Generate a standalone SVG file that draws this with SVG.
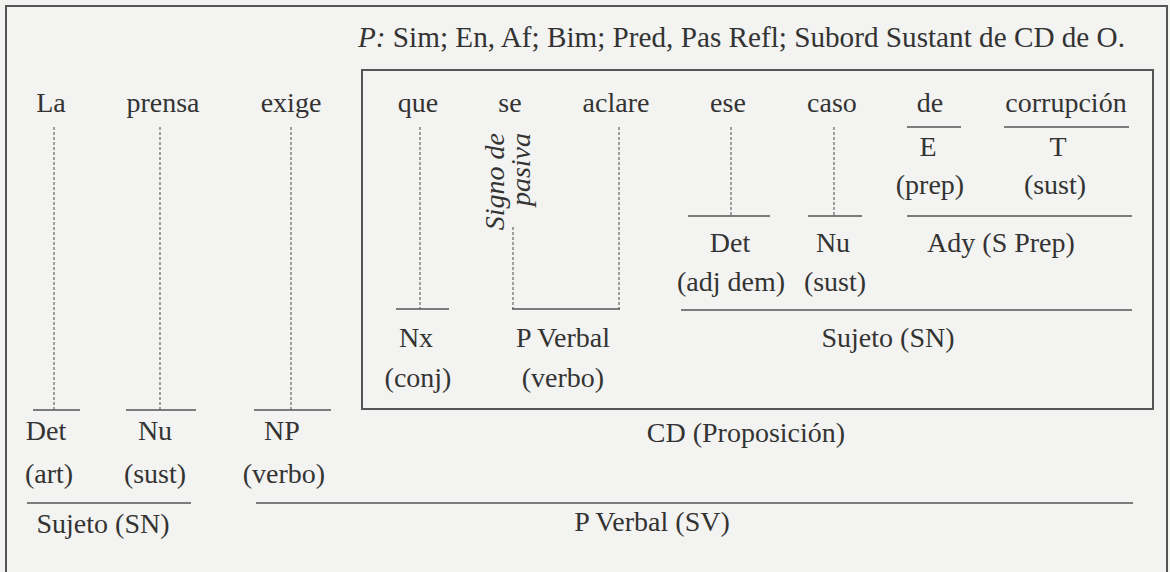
<svg xmlns="http://www.w3.org/2000/svg" width="1170" height="572" viewBox="0 0 1170 572">
<style>
text{font-family:"Liberation Serif","Times New Roman",serif;font-size:28px;fill:#333;text-anchor:middle}
.it{font-style:italic}
.l{text-anchor:start}
.hd{font-size:29.2px}
.dash{stroke:#666;stroke-width:1.2;stroke-dasharray:3 2;fill:none}
.sol{stroke:#555;stroke-width:1.6;fill:none}
.frame{stroke:#555;stroke-width:2;fill:none}
</style>
<rect x="0" y="0" width="1170" height="572" fill="#f3f3f1"/>
<rect class="frame" x="6" y="6" width="1161" height="580"/>
<g id="header"><text class="l hd" x="358" y="47"><tspan class="it">P:</tspan> Sim; En, Af; Bim; Pred, Pas Refl; Subord Sustant de CD de O.</text></g>
<rect id="prop-box" class="frame" x="362" y="70" width="791" height="339"/>
<g id="connectors">
<line class="dash" x1="54" y1="127" x2="54" y2="410"/>
<line class="dash" x1="160" y1="127" x2="160" y2="410"/>
<line class="dash" x1="291" y1="127" x2="291" y2="410"/>
<line class="dash" x1="420" y1="127" x2="420" y2="309"/>
<line class="dash" x1="619" y1="127" x2="619" y2="309"/>
<line class="dash" x1="513" y1="227" x2="513" y2="309"/>
<line class="dash" x1="731" y1="127" x2="731" y2="216"/>
<line class="dash" x1="834" y1="127" x2="834" y2="216"/>
<line class="sol" x1="33" y1="410" x2="80" y2="410"/>
<line class="sol" x1="126" y1="410" x2="196" y2="410"/>
<line class="sol" x1="254" y1="410" x2="331" y2="410"/>
<line class="sol" x1="396" y1="309" x2="449" y2="309"/>
<line class="sol" x1="512" y1="309" x2="620" y2="309"/>
<line class="sol" x1="688" y1="216" x2="770" y2="216"/>
<line class="sol" x1="808" y1="216" x2="862" y2="216"/>
<line class="sol" x1="907" y1="216" x2="1132" y2="216"/>
<line class="sol" x1="907" y1="127" x2="961" y2="127"/>
<line class="sol" x1="1004" y1="127" x2="1129" y2="127"/>
<line class="sol" x1="681" y1="310" x2="1132" y2="310"/>
<line class="sol" x1="27" y1="503" x2="191" y2="503"/>
<line class="sol" x1="256" y1="503" x2="1133" y2="503"/>
</g>
<g id="la"><text x="51" y="112">La</text><text x="46" y="440">Det</text><text x="49" y="483">(art)</text></g>
<g id="prensa"><text x="163" y="112">prensa</text><text x="155" y="440">Nu</text><text x="155" y="483">(sust)</text></g>
<g id="exige"><text x="291" y="112">exige</text><text x="282" y="440">NP</text><text x="284" y="483">(verbo)</text></g>
<g id="sujeto"><text x="103" y="533">Sujeto (SN)</text></g>
<g id="pverbal-sv"><text x="652" y="531">P Verbal (SV)</text></g>
<g id="cd"><text x="746" y="442">CD (Proposición)</text></g>
<g id="que"><text x="418" y="112">que</text><text x="416" y="347">Nx</text><text x="418" y="387">(conj)</text></g>
<g id="se"><text x="510" y="112">se</text>
<text class="it" transform="translate(504,133) rotate(-90)" style="text-anchor:end">Signo de</text>
<text class="it" transform="translate(530,133) rotate(-90)" style="text-anchor:end">pasiva</text></g>
<g id="aclare"><text x="616" y="112">aclare</text></g>
<g id="pverbal"><text x="563" y="347">P Verbal</text><text x="563" y="387">(verbo)</text></g>
<g id="ese"><text x="728" y="112">ese</text><text x="730" y="252">Det</text><text x="731" y="291">(adj dem)</text></g>
<g id="caso"><text x="832" y="112">caso</text><text x="833" y="252">Nu</text><text x="835" y="291">(sust)</text></g>
<g id="de"><text x="930" y="112">de</text><text x="928" y="156">E</text><text x="930" y="194">(prep)</text></g>
<g id="corrupcion"><text x="1066" y="112">corrupción</text><text x="1058" y="156">T</text><text x="1055" y="194">(sust)</text></g>
<g id="ady"><text x="1001" y="252">Ady (S Prep)</text></g>
<g id="sujeto-in"><text x="888" y="347">Sujeto (SN)</text></g>
</svg>
